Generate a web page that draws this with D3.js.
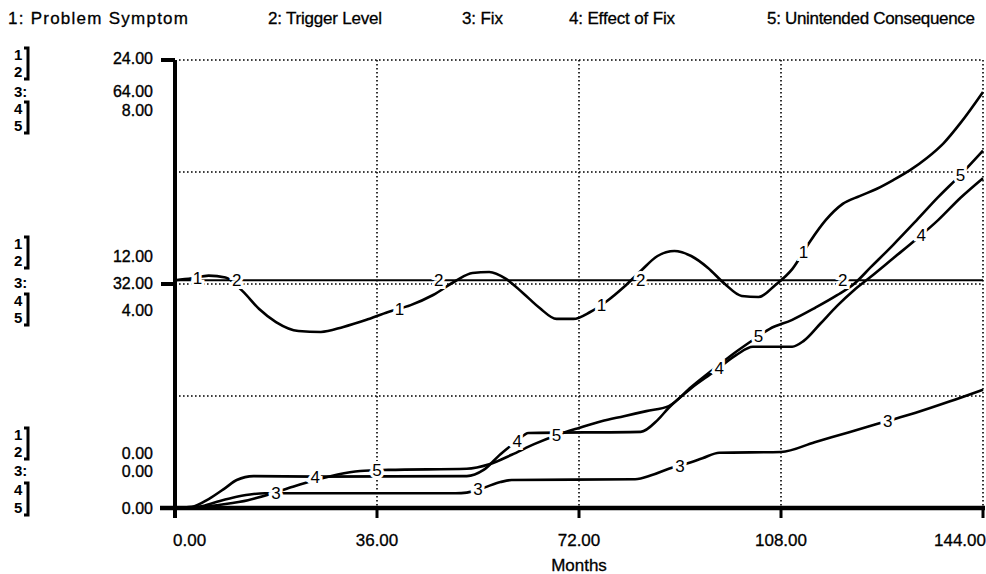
<!DOCTYPE html>
<html><head><meta charset="utf-8">
<script src="https://cdn.jsdelivr.net/npm/d3@7"></script>
<style>
body{margin:0;background:#fff}
svg{display:block}
text{font-family:Arial,"Liberation Sans",Helvetica,sans-serif;fill:#000}
</style></head><body>
<svg id="chart" width="986" height="574"></svg>
<script>
// ---------- data ----------
const legendLabels = ["1: Problem Symptom","2: Trigger Level","3: Fix","4: Effect of Fix","5: Unintended Consequence"];
const seriesIds = ["1","2","3","4","5"];
const monthTicks = [0,36,72,108,144];
const scaleMax = [24,24,64,8,8];
const problemSymptom = [[0,12.2],[3,12.3],[6,12.45],[9,12.35],[12,11.63],[15,10.66],[18,9.96],[22,9.48],[26,9.43],[30,9.7],[34,10.07],[38,10.5],[42,10.87],[46,11.41],[50,12.16],[53,12.59],[56,12.64],[59,12.27],[62,11.52],[65,10.71],[68,10.13],[71,10.13],[74,10.5],[77,11.09],[80,11.84],[83,12.7],[86,13.5],[89,13.77],[92,13.5],[95,12.86],[98,12.0],[101,11.36],[104,11.3],[107,11.95],[110,12.8],[113,14.2],[116,15.43],[119,16.29],[122,16.71],[125,17.09],[128,17.57],[131,18.1],[134,18.75],[137,19.55],[140,20.63],[144,22.29]];
const triggerLevel = [[0,12.2],[144,12.2]];
const fix = [[0,0],[3,0.05],[5,0.3],[8,1.0],[11,1.6],[14,2.0],[16,2.1],[50,2.1],[52,2.2],[55,2.9],[58,3.7],[60,4.0],[82,4.1],[85,4.7],[88,5.6],[91,6.3],[94,7.1],[97,7.9],[108,8.0],[114,9.4],[120,10.8],[126,12.2],[132,13.6],[138,15.2],[144,16.9]];
const effectOfFix = [[0,0],[3,0.02],[6,0.16],[9,0.36],[11,0.5],[14,0.57],[25,0.56],[52,0.57],[55,0.68],[58,0.96],[61,1.2],[63,1.34],[83,1.36],[86,1.57],[88,1.79],[92,2.14],[96,2.43],[100,2.73],[103,2.88],[110,2.88],[112,2.98],[115,3.29],[118,3.61],[121,3.89],[124,4.13],[128,4.46],[132,4.79],[136,5.14],[140,5.54],[144,5.89]];
const unintendedConsequence = [[0,0],[5,0.02],[9,0.07],[13,0.14],[17,0.25],[21,0.38],[25,0.5],[29,0.6],[33,0.66],[38,0.68],[52,0.7],[56,0.78],[60,0.95],[64,1.14],[68,1.3],[72,1.43],[76,1.55],[80,1.64],[84,1.73],[88,1.82],[92,2.16],[96,2.48],[100,2.79],[103,3.0],[106,3.2],[110,3.36],[114,3.57],[118,3.8],[121,4.0],[124,4.3],[128,4.7],[132,5.12],[136,5.55],[140,5.95],[144,6.38]];
const labelMonths = [[4,40,76,112],[11,47,83,119],[18,54,90,127],[25,61,97,133],[36,68,104,140]];
const xTitle = "Months";

// ---------- layout ----------
const svg = d3.select("#chart");
const L = 175, R = 983, T = 60, B = 508;
const x = d3.scaleLinear().domain([0,144]).range([L,R]);
const yScales = scaleMax.map(m => d3.scaleLinear().domain([0,m]).range([B,T]));
const allSeries = [problemSymptom, triggerLevel, fix, effectOfFix, unintendedConsequence];

// legend
const legendX = [8,268,462,569,767];
const legendW = [180,114,41,106,208];
svg.selectAll("text.leg").data(legendLabels).join("text")
  .attr("class","leg").attr("x",(d,i)=>legendX[i]).attr("y",24)
  .attr("font-size",17).attr("textLength",(d,i)=>legendW[i]).attr("lengthAdjust","spacing")
  .attr("stroke","#000").attr("stroke-width",0.3)
  .text(d=>d);

// grid (dotted)
const g = svg.append("g");
const dot = {stroke:"#000","stroke-width":1.6,"stroke-dasharray":"1.6,2.4"};
function applyAttrs(sel, a){ for(const k in a) sel.attr(k,a[k]); return sel; }
const ys0 = yScales[0];
applyAttrs(g.selectAll("line.hg").data([6,12,18,24]).join("line").attr("class","hg")
  .attr("x1",L+4).attr("x2",R).attr("y1",d=>ys0(d)).attr("y2",d=>ys0(d)), dot);
applyAttrs(g.selectAll("line.vg").data(monthTicks.slice(1)).join("line").attr("class","vg")
  .attr("x1",d=>x(d)).attr("x2",d=>x(d)).attr("y1",T).attr("y2",B), dot);

// axes (thick)
g.append("line").attr("x1",L).attr("x2",L).attr("y1",T).attr("y2",B+10).attr("stroke","#000").attr("stroke-width",4);
g.append("line").attr("x1",L-15).attr("x2",R+2).attr("y1",B).attr("y2",B).attr("stroke","#000").attr("stroke-width",4.5);
g.selectAll("line.ylt").data([0,12,24]).join("line").attr("class","ylt")
  .attr("x1",L-14).attr("x2",L).attr("y1",d=>ys0(d)).attr("y2",d=>ys0(d)).attr("stroke","#000").attr("stroke-width",4);
g.selectAll("line.xt").data(monthTicks).join("line").attr("class","xt")
  .attr("x1",d=>x(d)).attr("x2",d=>x(d)).attr("y1",B).attr("y2",B+10).attr("stroke","#000").attr("stroke-width",3);

// x tick labels
svg.selectAll("text.xl").data(monthTicks).join("text").attr("class","xl")
  .attr("x",d=>x(d)).attr("y",546).attr("font-size",17).attr("stroke","#000").attr("stroke-width",0.3)
  .attr("text-anchor",(d,i)=> i===0 ? "start" : (i===monthTicks.length-1 ? "end" : "middle"))
  .attr("dx",(d,i)=> i===0 ? -2 : (i===monthTicks.length-1 ? 3 : 0))
  .text(d=>d3.format(".2f")(d));
svg.append("text").attr("x",x(72)).attr("y",571).attr("font-size",17).attr("text-anchor","middle")
  .attr("stroke","#000").attr("stroke-width",0.3).text(xTitle);

// left scale labels
const groups = [
  {frac:1,   rows:[55,72,92,109,126], vals:[[0,58],[2,91],[3,110]]},
  {frac:0.5, rows:[244,261,283,301,318], vals:[[0,256],[2,283],[3,310]]},
  {frac:0,   rows:[435,452,471,490,508], vals:[[0,453],[2,471],[3,508]]}
];
const fmt = d3.format(".2f");
groups.forEach(gr=>{
  gr.rows.forEach((ry,i)=>{
    svg.append("text").attr("x",14).attr("y",ry).attr("dy","0.36em").attr("font-size",15)
      .attr("font-weight","bold").text(seriesIds[i] + (i===2 ? ":" : ""));
  });
  // brackets joining shared scales (1-2, 4-5)
  [[0,1],[3,4]].forEach(([a,b])=>{
    const y1 = gr.rows[a]-7, y2 = gr.rows[b]+7;
    svg.append("path").attr("d",`M24,${y1} L28,${y1} L28,${y2} L24,${y2}`)
      .attr("fill","none").attr("stroke","#000").attr("stroke-width",3);
  });
  gr.vals.forEach(([si,vy])=>{
    svg.append("text").attr("x",153).attr("y",vy).attr("dy","0.36em").attr("text-anchor","end")
      .attr("font-size",16).attr("stroke","#000").attr("stroke-width",0.35).text(fmt(scaleMax[si]*gr.frac));
  });
});

// curves
const plot = svg.append("g");
allSeries.forEach((data,i)=>{
  const ys = yScales[i];
  const line = d3.line().x(d=>x(d[0])).y(d=>ys(d[1])).curve(d3.curveMonotoneX);
  plot.append("path").datum(data).attr("d",line).attr("fill","none")
    .attr("stroke","#000").attr("stroke-width", i===1 ? 2.2 : 2.6)
    .attr("stroke-linejoin","round");
});

// inline curve labels
function valueAt(data,t){
  const bis = d3.bisector(d=>d[0]).left;
  let j = bis(data,t);
  if (j<=0) return data[0][1];
  if (j>=data.length) return data[data.length-1][1];
  const a = data[j-1], b = data[j];
  return a[1] + (b[1]-a[1])*(t-a[0])/(b[0]-a[0]);
}
allSeries.forEach((data,i)=>{
  labelMonths[i].forEach(t=>{
    svg.append("text").attr("x",x(t)).attr("y",yScales[i](valueAt(data,t)))
      .attr("dy","0.36em").attr("text-anchor","middle").attr("font-size",17)
      .attr("stroke","#fff").attr("stroke-width",6).attr("paint-order","stroke")
      .text(seriesIds[i]);
  });
});
</script>
</body></html>
